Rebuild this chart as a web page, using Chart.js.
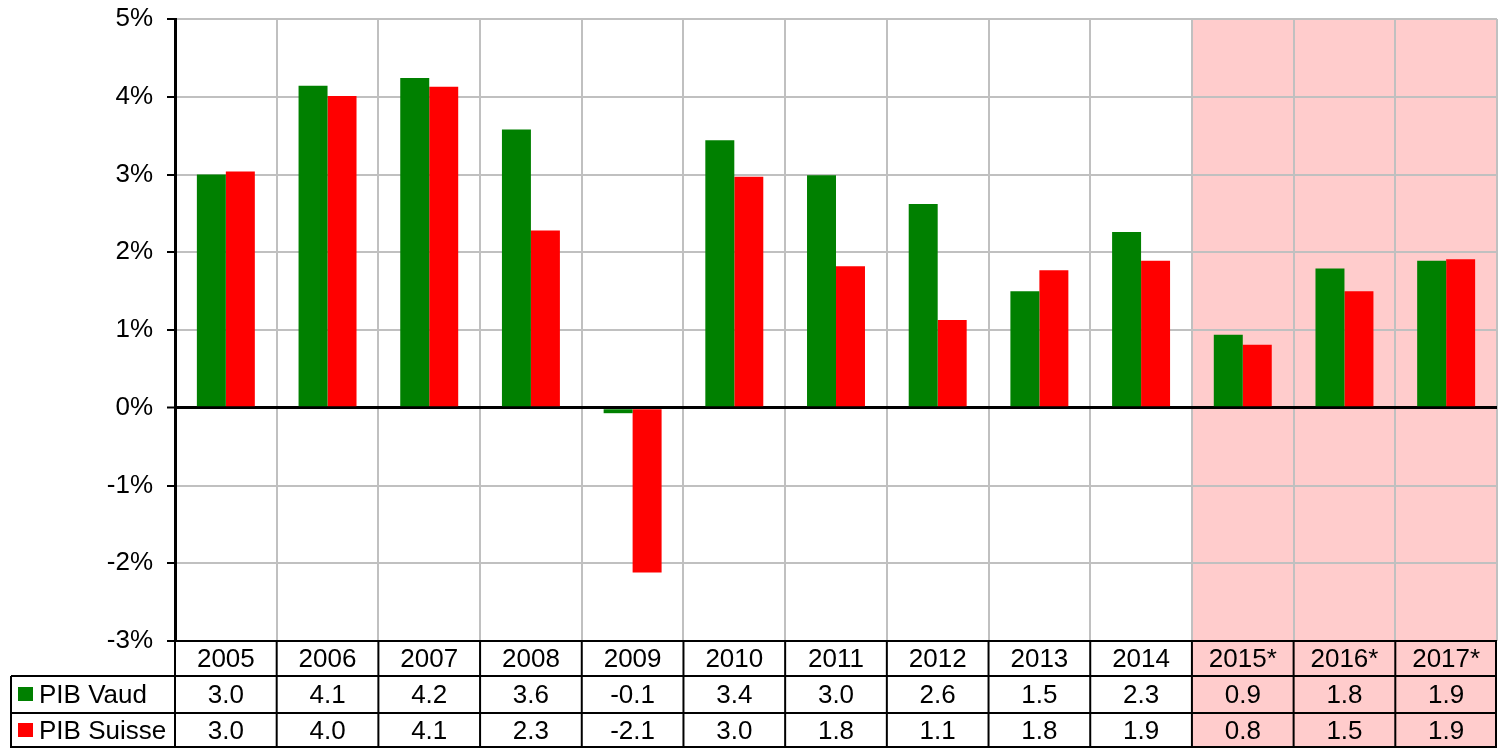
<!DOCTYPE html>
<html>
<head>
<meta charset="utf-8">
<script src="https://cdn.jsdelivr.net/npm/chart.js@4.4.1/dist/chart.umd.min.js"></script>
<style>
  html, body { margin: 0; padding: 0; background: #fff; }
  #wrap { width: 1499px; height: 748px; }
</style>
</head>
<body>
<div id="wrap"><canvas id="pib"></canvas></div>
<script>
const years = ['2005', '2006', '2007', '2008', '2009', '2010', '2011', '2012', '2013', '2014', '2015*', '2016*', '2017*'];
const pibVaud = [3.0, 4.14, 4.24, 3.58, -0.07, 3.44, 2.99, 2.62, 1.5, 2.26, 0.94, 1.79, 1.89];
const pibSuisse = [3.04, 4.01, 4.13, 2.28, -2.12, 2.97, 1.82, 1.13, 1.77, 1.89, 0.81, 1.5, 1.91];
const forecastFrom = 10; // 2015* onwards shaded

const FAMILY = '"Liberation Sans", Arial, sans-serif';
const FONT = '26px ' + FAMILY;
const GREEN = '#008000';
const RED = '#ff0000';
const PINK = '#ffcccc';
const TABLE_BOTTOM = 748;
const ROW_H = [35, 37, 35];

function colEdges(chart, i) {
    const x = chart.scales.x;
    const w = (x.right - x.left) / years.length;
    return [x.left + w * i, x.left + w * (i + 1)];
}

const shadePlugin = {
    id: 'shade',
    beforeDraw(chart) {
        const ctx = chart.ctx;
        const area = chart.chartArea;
        const [l] = colEdges(chart, forecastFrom);
        ctx.save();
        ctx.fillStyle = PINK;
        ctx.fillRect(l, area.top, area.right - l, TABLE_BOTTOM - area.top);
        ctx.restore();
    }
};

const tablePlugin = {
    id: 'dataTable',
    afterDraw(chart) {
        const ctx = chart.ctx;
        const area = chart.chartArea;
        const top = area.bottom;
        const r1 = top + ROW_H[0];
        const r2 = r1 + ROW_H[1];
        const r3 = TABLE_BOTTOM;
        const tableLeft = 11;

        ctx.save();
        ctx.strokeStyle = '#000';
        ctx.lineWidth = 2;

        // horizontal lines
        ctx.beginPath();
        ctx.moveTo(area.left, top); ctx.lineTo(area.right, top);
        ctx.moveTo(tableLeft, r1); ctx.lineTo(area.right, r1);
        ctx.moveTo(tableLeft, r2); ctx.lineTo(area.right, r2);
        ctx.moveTo(tableLeft, r3 - 1); ctx.lineTo(area.right, r3 - 1);
        // vertical lines
        ctx.moveTo(tableLeft, r1); ctx.lineTo(tableLeft, r3);
        for (let i = 0; i <= years.length; i++) {
            const x = i < years.length ? colEdges(chart, i)[0] : area.right - 1;
            ctx.moveTo(x, top); ctx.lineTo(x, r3);
        }
        ctx.stroke();

        ctx.font = FONT;
        ctx.fillStyle = '#000';
        ctx.textAlign = 'center';
        ctx.textBaseline = 'middle';
        years.forEach((y, i) => {
            const [l, r] = colEdges(chart, i);
            const cx = (l + r) / 2;
            ctx.fillText(y, cx, top + ROW_H[0] / 2 + 1);
            ctx.fillText(pibVaud[i].toFixed(1), cx, r1 + ROW_H[1] / 2 + 1);
            ctx.fillText(pibSuisse[i].toFixed(1), cx, r2 + ROW_H[2] / 2 + 1);
        });

        // legend keys
        ctx.textAlign = 'left';
        ctx.fillStyle = GREEN;
        ctx.fillRect(18, r1 + 11, 15, 14);
        ctx.fillStyle = RED;
        ctx.fillRect(18, r2 + 10, 15, 14);
        ctx.fillStyle = '#000';
        ctx.fillText('PIB Vaud', 39, r1 + ROW_H[1] / 2 + 1);
        ctx.fillText('PIB Suisse', 39, r2 + ROW_H[2] / 2 + 1);
        ctx.restore();
    }
};

new Chart(document.getElementById('pib'), {
    type: 'bar',
    data: {
        labels: years,
        datasets: [
            { label: 'PIB Vaud', data: pibVaud, backgroundColor: GREEN, borderWidth: 0 },
            { label: 'PIB Suisse', data: pibSuisse, backgroundColor: RED, borderWidth: 0 }
        ]
    },
    options: {
        responsive: true,
        maintainAspectRatio: false,
        animation: false,
        layout: { padding: { top: 19, right: 2, bottom: 107, left: 0 } },
        datasets: {
            bar: { categoryPercentage: 0.57, barPercentage: 1.0 }
        },
        plugins: {
            legend: { display: false },
            tooltip: { enabled: false }
        },
        scales: {
            x: {
                offset: true,
                grid: { offset: true, color: '#c0c0c0', lineWidth: 2, drawTicks: false },
                ticks: { display: false },
                border: { display: false },
                afterFit: (scale) => { scale.height = 0; }
            },
            y: {
                min: -3,
                max: 5,
                ticks: {
                    stepSize: 1,
                    color: '#000',
                    font: { family: FAMILY, size: 26 },
                    padding: 14,
                    callback: (v) => v + '%'
                },
                grid: {
                    color: (c) => c.tick && c.tick.value === 0 ? '#000' : '#c0c0c0',
                    lineWidth: (c) => c.tick && c.tick.value === 0 ? 3 : 2,
                    tickColor: '#000',
                    tickWidth: 2,
                    tickLength: 8
                },
                border: { display: true, color: '#000', width: 3 },
                afterFit: (scale) => {
                    scale.width = 175;
                    scale.paddingTop = 0;
                    scale.paddingBottom = 0;
                }
            }
        }
    },
    plugins: [shadePlugin, tablePlugin]
});
</script>
</body>
</html>
